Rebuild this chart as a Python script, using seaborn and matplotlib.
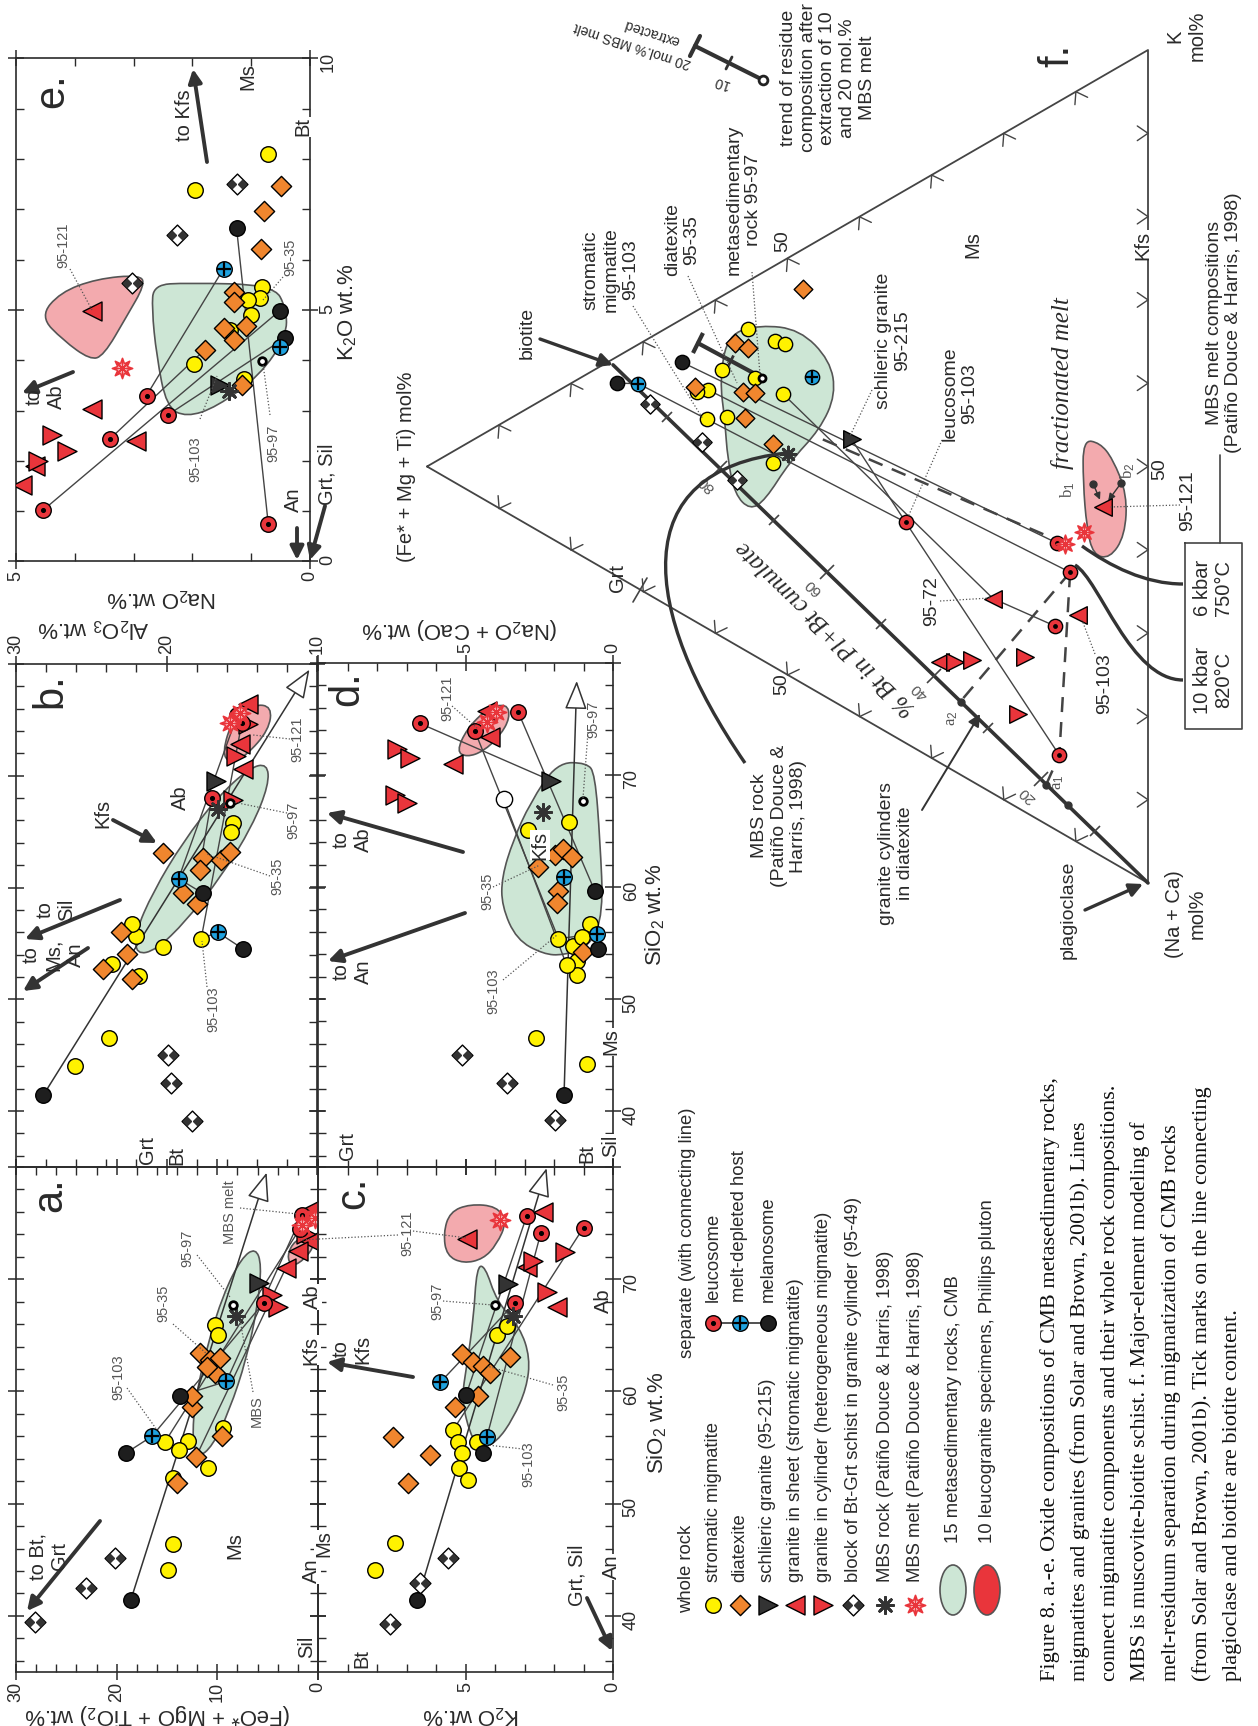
import numpy as np
import matplotlib
matplotlib.use('Agg')
import matplotlib.pyplot as plt
import seaborn as sns
from matplotlib.path import Path
from matplotlib.patches import PathPatch, Ellipse
from matplotlib.markers import MarkerStyle
from matplotlib.transforms import Affine2D

sns.set_style('white')
plt.rcParams['font.family'] = ['Liberation Sans', 'DejaVu Sans']
plt.rcParams['mathtext.fontset'] = 'custom'
plt.rcParams['mathtext.rm'] = 'Liberation Sans'
plt.rcParams['mathtext.it'] = 'Liberation Sans:italic'
plt.rcParams['mathtext.bf'] = 'Liberation Sans:bold'

# ---------------- data ----------------
# panel a: x = FeO*+MgO+TiO2 wt.%, y = SiO2 wt.%
a_strom_x = [14.4, 14.9, 10.2, 9.9, 9.4, 15.2, 12.9, 13.8, 10.9, 14.4]
a_strom_y = [46.4, 44.1, 65.9, 65.0, 56.7, 55.5, 55.6, 54.8, 53.2, 52.3]
a_diat_x = [9.5, 14.0, 12.1, 12.5, 12.5, 10.2, 11.7, 10.7, 9.7, 11.0]
a_diat_y = [56.0, 51.8, 54.2, 58.6, 59.6, 61.6, 63.4, 62.8, 63.0, 62.2]
a_mel_x, a_mel_y = [13.7, 19.1, 18.6], [59.6, 54.5, 41.4]
a_host_x, a_host_y = [16.5, 9.1], [56.0, 60.9]
a_leuc_x, a_leuc_y = [5.4, 1.6, 1.8], [67.9, 75.7, 74.5]
a_melt_x, a_melt_y = [0.3, 1.6], [75.5, 74.8]
a_schl_x, a_schl_y = [5.9], [69.7]
a_sheet_x, a_sheet_y = [3.2, 0.6, 0.8, 2.0], [71.0, 76.3, 73.4, 72.5]
a_cyl_x, a_cyl_y = [4.6, 4.0, 1.2], [68.6, 67.5, 74.0]
a_block_x, a_block_y = [20.2, 23.0, 28.1], [45.2, 42.5, 39.5]
a_mbs = ([8.1], [66.7])
a_ms97 = ([8.4], [67.7])
a_green_x = [11.9, 10.5, 8.8, 7.1, 6.0, 5.6, 6.2, 7.6, 9.4, 11.0, 12.2, 12.5]
a_green_y = [54.1, 55.1, 58.3, 62.9, 67.6, 71.3, 72.8, 71.9, 68.7, 64.1, 59.3, 55.7]
a_pink_x = [3.1, 2.3, 0.8, 0.3, 1.3, 2.6]
a_pink_y = [72.1, 73.5, 73.8, 73.1, 71.8, 71.1]
a_links = [[(19.1, 54.5), (16.5, 56.0), (5.4, 67.9)], [(13.7, 59.6), (9.1, 60.9), (1.6, 75.7)],
           [(15.2, 55.5), (1.8, 74.5)], [(12.1, 54.2), (3.2, 71.0)]]
a_trend = [(18.6, 41.4), (5.1, 79.5)]

# panel b: x = Al2O3 wt.%, y = SiO2 wt.%
b_strom_x = [26.1, 23.8, 20.2, 17.7, 21.8, 23.6, 22.0, 22.3, 15.6, 15.7]
b_strom_y = [44.0, 46.5, 54.7, 55.4, 52.1, 53.2, 55.7, 56.7, 65.8, 65.0]
b_diat_x = [20.2, 17.6, 16.4, 15.8, 17.8, 18.9, 18.0, 23.0, 22.6, 24.2, 22.3]
b_diat_y = [63.1, 62.6, 62.5, 63.2, 61.6, 59.5, 58.5, 56.0, 54.1, 52.7, 51.8]
b_mel_x, b_mel_y = [28.2, 17.6, 14.9], [41.4, 59.5, 54.5]
b_host_x, b_host_y = [19.2, 16.6], [60.8, 56.0]
b_leuc_x, b_leuc_y = [17.0, 15.3, 15.0], [68.0, 75.4, 74.7]
b_melt_x, b_melt_y = [15.1, 15.8], [75.6, 74.7]
b_schl_x, b_schl_y = [16.7], [69.5]
b_sheet_x, b_sheet_y = [14.6, 14.9, 15.1], [76.4, 70.6, 72.8]
b_cyl_x, b_cyl_y = [15.4, 15.6, 14.6], [71.8, 67.8, 74.6]
b_block_x, b_block_y = [19.9, 19.7, 18.3], [45.0, 42.5, 39.1]
b_mbs = ([16.6], [67.0])
b_ms97 = ([15.8], [67.6])
b_green_x = [22.0, 20.7, 18.7, 16.3, 14.3, 13.2, 13.3, 14.5, 16.6, 18.9, 20.9, 22.1]
b_green_y = [54.0, 54.4, 57.0, 61.1, 65.5, 69.2, 71.1, 70.7, 68.1, 64.1, 59.6, 55.9]
b_pink_x = [16.3, 15.6, 14.2, 13.0, 13.2, 14.7, 15.8]
b_pink_y = [72.1, 75.1, 76.4, 76.2, 74.1, 71.8, 71.1]
b_links = [[(14.9, 54.5), (16.6, 56.0), (17.7, 55.4), (15.0, 74.7)],
           [(17.6, 59.5), (19.2, 60.8), (15.3, 75.4)], [(17.8, 61.6), (17.0, 68.0)]]
b_trend = [(28.2, 41.4), (10.5, 79.5)]

# panel c: x = K2O wt.%, y = SiO2 wt.%
c_strom_x = [8.07, 7.39, 5.41, 5.24, 5.13, 5.21, 4.90, 4.62, 3.94, 3.60]
c_strom_y = [44.1, 46.5, 56.6, 55.5, 54.5, 53.2, 52.1, 55.5, 65.0, 65.8]
c_diat_x = [7.45, 6.20, 6.94, 5.36, 4.56, 5.13, 4.73, 4.40, 4.17, 3.50]
c_diat_y = [55.9, 54.3, 51.8, 58.6, 59.6, 63.3, 62.6, 62.3, 61.6, 63.1]
c_mel_x, c_mel_y = [6.63, 4.98, 4.42], [41.4, 59.7, 54.5]
c_host_x, c_host_y = [5.86, 4.28], [60.8, 55.9]
c_leuc_x, c_leuc_y = [3.32, 2.93, 2.45, 1.00], [67.9, 75.6, 74.1, 74.6]
c_melt_x, c_melt_y = [3.83], [75.3]
c_schl_x, c_schl_y = [3.55], [69.6]
c_sheet_x, c_sheet_y = [2.36, 2.93, 1.91, 4.96], [76.0, 71.1, 67.5, 73.6]
c_cyl_x, c_cyl_y = [1.63, 2.70, 2.25], [72.4, 71.6, 68.9]
c_block_x, c_block_y = [7.56, 5.58, 6.54], [39.3, 45.2, 42.9]
c_mbs = ([3.38], [66.7])
c_ms97 = ([4.01], [67.7])
c_green_x = [4.62, 4.34, 3.94, 3.15, 2.81, 2.93, 3.38, 3.94, 4.51, 4.85, 5.13, 4.96, 4.73]
c_green_y = [71.1, 71.2, 68.0, 65.7, 63.0, 60.3, 57.6, 55.5, 54.9, 56.2, 59.3, 62.3, 66.4]
c_pink_x = [5.75, 5.53, 4.85, 3.94, 3.60, 3.94, 4.40, 5.07, 5.64]
c_pink_y = [74.1, 76.0, 76.7, 76.5, 75.1, 73.1, 71.8, 71.4, 72.1]
c_links = [[(5.86, 60.8), (3.32, 67.9)], [(4.98, 59.7), (2.93, 75.6)],
           [(4.42, 54.5), (4.28, 55.9), (2.45, 74.1)], [(5.41, 56.6), (1.00, 74.6)]]
c_trend = [(6.63, 41.4), (2.25, 79.9)]

# panel d: x = Na2O+CaO wt.%, y = SiO2 wt.%
d_strom_x = [2.61, 0.89, 1.48, 2.87, 1.85, 1.34, 0.78, 1.06, 1.23, 1.23, 1.57]
d_strom_y = [46.5, 44.2, 65.8, 65.1, 55.4, 54.7, 56.7, 55.5, 53.4, 52.1, 53.0]
d_diat_x = [2.53, 1.97, 1.68, 1.40, 1.85, 1.91, 1.01]
d_diat_y = [61.8, 62.9, 63.4, 62.7, 59.6, 58.6, 54.2]
d_mel_x, d_mel_y = [1.66, 0.61, 0.50], [41.4, 59.6, 54.5]
d_host_x, d_host_y = [1.66, 0.55], [60.9, 55.8]
d_leuc_x, d_leuc_y = [6.54, 4.68, 3.21], [74.6, 73.9, 75.6]
d_melt_x, d_melt_y = [4.28, 3.97], [74.7, 75.6]
d_schl_x, d_schl_y = [2.10], [69.5]
d_sheet_x, d_sheet_y = [5.41, 4.28, 4.17], [71.0, 75.7, 73.4]
d_cyl_x, d_cyl_y = [7.33, 6.88, 7.39, 7.00], [72.3, 71.5, 68.2, 67.5]
d_block_x, d_block_y = [5.13, 3.60, 1.97], [45.0, 42.5, 39.2]
d_mbs = ([2.36], [66.7])
d_ms97 = ([1.03], [67.7])
d_open = ([3.71], [67.9])
d_green_x = [1.91, 0.89, 0.61, 0.44, 0.33, 0.78, 1.68, 2.36, 3.27, 3.77, 3.77, 3.38, 2.81]
d_green_y = [71.1, 71.1, 70.1, 64.2, 57.6, 54.7, 53.9, 54.0, 55.3, 58.3, 60.9, 64.2, 67.5]
d_pink_x = [5.30, 4.96, 4.28, 3.60, 3.49, 3.83, 4.40, 4.96]
d_pink_y = [72.1, 74.1, 75.9, 76.4, 75.1, 73.5, 72.1, 71.6]
d_links = [[(6.54, 74.6), (2.10, 69.5)], [(4.68, 73.9), (1.85, 55.4)], [(3.21, 75.6), (0.61, 59.6)],
           [(3.71, 67.9), (1.57, 53.0)], [(0.50, 54.5), (0.55, 55.8), (1.85, 55.4)]]
d_trend = [(1.66, 41.4), (1.23, 78.4)]

# panel e: x = Na2O wt.%, y = K2O wt.%
e_strom_x = [0.71, 1.96, 0.82, 0.85, 1.05, 1.00, 1.36, 1.98, 1.13]
e_strom_y = [8.10, 7.39, 5.46, 5.23, 5.19, 4.91, 4.60, 3.93, 3.62]
e_diat_x = [0.49, 0.79, 0.83, 1.30, 1.30, 1.08, 1.47, 1.30, 1.79, 1.16]
e_diat_y = [7.47, 6.96, 6.21, 5.36, 5.15, 4.68, 4.64, 4.40, 4.21, 3.50]
e_mel_x, e_mel_y = [1.25, 0.51, 0.43], [6.64, 4.99, 4.44]
e_host_x, e_host_y = [1.47, 0.51], [5.82, 4.26]
e_leuc_x, e_leuc_y = [2.78, 2.41, 3.40, 4.54, 0.71], [3.30, 2.92, 2.44, 1.02, 0.75]
e_melt_x, e_melt_y = [3.20], [3.85]
e_schl_x, e_schl_y = [1.53], [3.50]
e_sheet_x, e_sheet_y = [3.71, 3.71, 2.96, 4.89, 4.68], [4.99, 3.03, 2.40, 1.53, 1.89]
e_cyl_x, e_cyl_y = [4.39, 4.14, 4.62], [2.52, 2.20, 2.00]
e_block_x, e_block_y = [1.25, 2.27, 3.03], [7.51, 6.49, 5.54]
e_mbs = ([1.37], [3.38])
e_ms97 = ([0.82], [3.99])
e_green_x = [2.66, 2.10, 0.62, 0.40, 0.40, 0.85, 1.59, 2.10, 2.44, 2.61, 2.69]
e_green_y = [5.50, 5.54, 5.50, 5.03, 4.48, 3.70, 3.07, 2.87, 3.07, 4.09, 5.03]
e_pink_x = [4.59, 4.25, 3.63, 2.89, 2.81, 3.12, 3.51, 3.74, 4.20]
e_pink_y = [4.87, 5.35, 5.62, 5.70, 5.50, 4.87, 4.09, 4.01, 4.40]
e_links = [[(4.54, 1.02), (0.51, 4.99)], [(3.40, 2.44), (1.79, 4.21)], [(2.78, 3.30), (1.47, 5.82)],
           [(2.41, 2.92), (0.43, 4.44)], [(0.71, 0.75), (1.25, 6.64)]]

# panel f: ternary, F = Fe*+Mg+Ti mol%, K = K mol% (Na+Ca = rest)
f_strom_F = [59.1, 61.0, 62.6, 61.2, 58.4, 55.5, 51.7, 54.5, 50.6, 52.0, 50.3]
f_strom_K = [32.0, 28.7, 27.6, 25.1, 26.7, 38.8, 39.2, 33.4, 33.4, 24.4, 39.6]
f_diat_F = [57.3, 55.5, 56.2, 54.5, 55.9, 52.0, 62.8, 47.9]
f_diat_K = [36.2, 36.5, 30.8, 31.6, 27.9, 26.7, 28.1, 47.4]
f_mel_F, f_mel_K = [73.6, 64.6], [23.2, 30.2]
f_host_F, f_host_K = [70.7, 46.6], [24.6, 37.4]
f_block_F, f_block_K = [69.1, 61.9, 57.0], [23.0, 22.0, 19.9]
f_leuc_F, f_leuc_K = [33.6, 12.6, 10.8, 12.9, 12.3], [26.5, 34.5, 31.9, 24.4, 9.2]
f_melt_F, f_melt_K = [11.5, 8.9], [35.0, 37.7]
f_schl_F, f_schl_K = [41.1], [32.7]
f_sheet_F, f_sheet_K = [6.2, 21.5, 9.7, 28.8], [42.0, 23.4, 27.3, 12.1]
f_cyl_F, f_cyl_K = [26.8, 24.4, 17.1, 18.0], [13.1, 14.6, 18.6, 11.3]
f_mbs = ([49.9], [26.6])
f_ms97 = ([53.5], [33.9])
f_green_F = [58.3, 53.8, 48.3, 44.1, 43.3, 45.5, 49.7, 53.1, 55.2, 57.3, 58.3, 58.7, 59.4]
f_green_K = [36.7, 40.1, 42.3, 40.7, 37.0, 31.7, 25.7, 19.4, 17.2, 18.0, 21.7, 26.3, 30.7]
f_pink_F = [9.0, 6.7, 4.9, 2.9, 3.2, 5.3, 7.6, 8.5, 9.0]
f_pink_K = [48.7, 49.5, 48.5, 45.2, 40.1, 36.3, 35.6, 38.4, 43.6]
f_biotite = (74.2, 25.1)
f_bt_ticks = [10, 20, 30, 40, 50, 60, 70, 80, 90]
f_bt_labels = [20, 40, 60, 80]
f_a_pts = [19, 35, 15]           # % Bt of the a1, a2 and extra model points
f_b_pts = ([7.6, 3.7], [44.1, 46.2])
f_residue = ([53.5, 62.4], [33.9, 33.6])
f_links = [[(64.6, 30.2), (12.6, 34.5)], [(61.0, 28.7), (10.8, 31.9)],
           [(73.6, 23.2), (70.7, 24.6), (33.6, 26.5)], [(41.1, 32.7), (33.6, 26.5), (12.3, 9.2)],
           [(50.6, 33.4), (21.5, 23.4), (12.9, 24.4)]]
f_dashed = [[(45.1, 30.7), (11.5, 35.0)], [(10.8, 31.9), (26.0, 8.8)], [(10.8, 31.9), (12.3, 9.2), (14.1, 4.8)]]

# ---------------- figure ----------------
W, H = 1258, 1726
fig = plt.figure(figsize=(W / 100, H / 100), dpi=100)
fig.patch.set_facecolor('white')

INK = '#2a2a2a'
YEL, ORA, RED, BLU, BLK = '#fff200', '#f0862e', '#e9353b', '#1fa2df', '#1e1e1e'
GRN, PNK = '#cde6d5', '#f3aaae'

# dark left/right quarters of the schist-block diamond
bowtie = Path([(-1, 0), (-0.5, 0.5), (0, 0), (-0.5, -0.5), (-1, 0),
               (1, 0), (0.5, 0.5), (0, 0), (0.5, -0.5), (1, 0)],
              [Path.MOVETO, Path.LINETO, Path.LINETO, Path.LINETO, Path.CLOSEPOLY] * 2)


def marks(ax, x, y, kind, sc=1.0):
    x = np.atleast_1d(np.asarray(x, float))
    y = np.atleast_1d(np.asarray(y, float))
    s = 125 * sc
    kw = dict(x=x, y=y, ax=ax, legend=False, zorder=6, edgecolor='black', linewidth=1)
    if kind == 'strom':
        sns.scatterplot(marker='o', s=s, color=YEL, **kw)
    elif kind == 'diat':
        sns.scatterplot(marker='D', s=s * 0.85, color=ORA, **kw)
    elif kind == 'schl':
        sns.scatterplot(marker='>', s=s * 1.5, color='#333333', **kw)
    elif kind == 'sheet':
        sns.scatterplot(marker='<', s=s * 1.5, color=RED, **kw)
    elif kind == 'cyl':
        sns.scatterplot(marker='>', s=s * 1.5, color=RED, **kw)
    elif kind == 'block':
        sns.scatterplot(marker='D', s=s * 0.9, color='white', **kw)
        ax.scatter(x, y, marker=bowtie, s=s * 1.6, color='#333333', linewidths=0, zorder=7)
    elif kind == 'mbs':
        ax.scatter(x, y, marker=(8, 2, 0), s=s * 1.1, color='#333333', linewidths=2, zorder=7)
    elif kind == 'melt':
        ax.scatter(x, y, marker=(8, 1, 0), s=s * 1.7, facecolor='white', edgecolor=RED, linewidths=1.2, zorder=7)
        ax.scatter(x, y, marker=(8, 2, 0), s=s * 0.8, color=RED, linewidths=1, zorder=8)
    elif kind == 'leuc':
        sns.scatterplot(marker='o', s=s, color=RED, **kw)
        ax.scatter(x, y, marker='o', s=7 * sc, color='black', zorder=7)
    elif kind == 'host':
        sns.scatterplot(marker='o', s=s, color=BLU, **kw)
        ax.scatter(x, y, marker='+', s=s * 0.8, color='black', linewidths=1.6, zorder=7)
    elif kind == 'mel':
        sns.scatterplot(marker='o', s=s, color=BLK, **kw)
    elif kind == 'ms97':
        ax.scatter(x, y, marker='o', s=30 * sc, facecolor='white', edgecolor='black', linewidths=2, zorder=7)
    elif kind == 'open':
        ax.scatter(x, y, marker='o', s=s * 1.1, facecolor='white', edgecolor='black', linewidths=1, zorder=6)


def field(ax, xs, ys, fc):
    p = np.column_stack([xs, ys])
    mids = (p + np.roll(p, -1, axis=0)) / 2
    verts, codes = [mids[-1]], [Path.MOVETO]
    for i in range(len(p)):
        verts += [p[i], mids[i]]
        codes += [Path.CURVE3, Path.CURVE3]
    ax.add_patch(PathPatch(Path(verts, codes), fc=fc, ec='#555555', lw=1.2, zorder=1))


def panel(l, t, r, b):
    ax = fig.add_axes([l / W, 1 - b / H, (r - l) / W, (b - t) / H])
    ax.set_facecolor('none')
    for sp in ax.spines.values():
        sp.set_color(INK)
        sp.set_linewidth(1.2)
    return ax


def ticks(ax, xlim, ylim, xmaj, xlab, xmin, ymaj, ylab, ymin, xside, yside):
    ax.set_xlim(*xlim)
    ax.set_ylim(*ylim)
    ax.set_xticks(xmaj)
    ax.set_xticklabels(xlab)
    ax.set_xticks(xmin, minor=True)
    ax.set_yticks(ymaj)
    ax.set_yticklabels(ylab)
    ax.set_yticks(ymin, minor=True)
    ax.tick_params(which='both', top=True, bottom=True, left=True, right=True, color=INK)
    ax.tick_params(which='major', direction='inout', length=12, width=1.1, labelsize=13, labelcolor=INK, pad=1)
    ax.tick_params(which='minor', direction='in', length=6, width=1)
    ax.tick_params(axis='x', labelrotation=90, labelbottom=(xside == 'bottom'), labeltop=(xside == 'top'))
    ax.tick_params(axis='y', labelrotation=90, labelleft=False, labelright=(yside == 'right'))


def draw(ax, strom, diat, mel, host, leuc, melt, schl, sheet, cyl, block, mbs, ms97, green, pink, links, trend=None):
    field(ax, *green, GRN)
    field(ax, *pink, PNK)
    for ln in links:
        xs, ys = zip(*ln)
        ax.plot(xs, ys, color='#444444', lw=1, zorder=3)
    if trend is not None:
        ax.annotate('', xy=trend[1], xytext=trend[0],
                    arrowprops=dict(arrowstyle='-|>,head_length=0.9,head_width=0.35', fc='white', ec='#333333',
                                    lw=1.1, mutation_scale=20, shrinkA=0, shrinkB=0), zorder=3)
    marks(ax, *block, 'block')
    marks(ax, *strom, 'strom')
    marks(ax, *diat, 'diat')
    marks(ax, *mel, 'mel')
    marks(ax, *host, 'host')
    marks(ax, *schl, 'schl')
    marks(ax, *sheet, 'sheet')
    marks(ax, *cyl, 'cyl')
    marks(ax, *leuc, 'leuc')
    marks(ax, *melt, 'melt')
    marks(ax, *mbs, 'mbs')
    marks(ax, *ms97, 'ms97')


sil = np.arange(36, 80.1, 2)
ax_e = panel(16, 58.5, 310, 561.5)
ticks(ax_e, (5, 0), (0, 10), [0, 5], ['0', '5'], np.arange(0, 5.1, 1), [0, 5, 10], ['0', '5', '10'],
      np.arange(0, 10.1, 1), 'bottom', 'right')
ax_b = panel(16, 664, 317, 1167)
ticks(ax_b, (30, 10), (35, 80), [10, 20, 30], ['10', '20', '30'], np.arange(10, 30.1, 2),
      [40, 50, 60, 70, 80], [''] * 5, sil, 'top', None)
ax_a = panel(16, 1167, 318, 1672)
ticks(ax_a, (30, 0), (35, 80), [0, 10, 20, 30], ['0', '10', '20', '30'], np.arange(0, 30.1, 2),
      [40, 50, 60, 70, 80], [''] * 5, sil, 'bottom', None)
ax_d = panel(318, 663, 613, 1167)
ticks(ax_d, (10, 0), (35, 80), [0, 5, 10], ['0', '5', ''], np.arange(0, 10.1, 1),
      [40, 50, 60, 70, 80], ['40', '50', '60', '70', ''], sil, 'top', 'right')
ax_c = panel(318, 1167, 613, 1672)
ticks(ax_c, (10, 0), (35, 80), [0, 5, 10], ['0', '5', ''], np.arange(0, 10.1, 1),
      [40, 50, 60, 70, 80], ['40', '50', '60', '70', ''], sil, 'bottom', 'right')

draw(ax_a, (a_strom_x, a_strom_y), (a_diat_x, a_diat_y), (a_mel_x, a_mel_y), (a_host_x, a_host_y),
     (a_leuc_x, a_leuc_y), (a_melt_x, a_melt_y), (a_schl_x, a_schl_y), (a_sheet_x, a_sheet_y),
     (a_cyl_x, a_cyl_y), (a_block_x, a_block_y), a_mbs, a_ms97, (a_green_x, a_green_y),
     (a_pink_x, a_pink_y), a_links, a_trend)
draw(ax_b, (b_strom_x, b_strom_y), (b_diat_x, b_diat_y), (b_mel_x, b_mel_y), (b_host_x, b_host_y),
     (b_leuc_x, b_leuc_y), (b_melt_x, b_melt_y), (b_schl_x, b_schl_y), (b_sheet_x, b_sheet_y),
     (b_cyl_x, b_cyl_y), (b_block_x, b_block_y), b_mbs, b_ms97, (b_green_x, b_green_y),
     (b_pink_x, b_pink_y), b_links, b_trend)
draw(ax_c, (c_strom_x, c_strom_y), (c_diat_x, c_diat_y), (c_mel_x, c_mel_y), (c_host_x, c_host_y),
     (c_leuc_x, c_leuc_y), (c_melt_x, c_melt_y), (c_schl_x, c_schl_y), (c_sheet_x, c_sheet_y),
     (c_cyl_x, c_cyl_y), (c_block_x, c_block_y), c_mbs, c_ms97, (c_green_x, c_green_y),
     (c_pink_x, c_pink_y), c_links, c_trend)
draw(ax_d, (d_strom_x, d_strom_y), (d_diat_x, d_diat_y), (d_mel_x, d_mel_y), (d_host_x, d_host_y),
     (d_leuc_x, d_leuc_y), (d_melt_x, d_melt_y), (d_schl_x, d_schl_y), (d_sheet_x, d_sheet_y),
     (d_cyl_x, d_cyl_y), (d_block_x, d_block_y), d_mbs, d_ms97, (d_green_x, d_green_y),
     (d_pink_x, d_pink_y), d_links, d_trend)
marks(ax_d, *d_open, 'open')
draw(ax_e, (e_strom_x, e_strom_y), (e_diat_x, e_diat_y), (e_mel_x, e_mel_y), (e_host_x, e_host_y),
     (e_leuc_x, e_leuc_y), (e_melt_x, e_melt_y), (e_schl_x, e_schl_y), (e_sheet_x, e_sheet_y),
     (e_cyl_x, e_cyl_y), (e_block_x, e_block_y), e_mbs, e_ms97, (e_green_x, e_green_y),
     (e_pink_x, e_pink_y), e_links)

# ---------------- panel f (ternary, rotated) ----------------
# page x = 1148 - 721*h, page y = 883 - 833*v  with h = F, v = K + F/2
ax_f = fig.add_axes([0, 0, 1, 1])
ax_f.set_xlim(1148 / 721, (1148 - W) / 721)
ax_f.set_ylim((883 - H) / 833, 883 / 833)
ax_f.axis('off')
ax_f.patch.set_alpha(0)


def tern(F, K):
    F = np.asarray(F, float)
    K = np.asarray(K, float)
    return F / 100, K / 100 + F / 200


ax_f.plot(*tern([100, 0, 0, 100], [0, 100, 0, 0]), color='#444444', lw=1.3, zorder=2)
field(ax_f, *tern(f_green_F, f_green_K), GRN)
field(ax_f, *tern(f_pink_F, f_pink_K), PNK)
for ln in f_links:
    Fs, Ks = zip(*ln)
    ax_f.plot(*tern(Fs, Ks), color='#444444', lw=1, zorder=3)
for ln in f_dashed:
    Fs, Ks = zip(*ln)
    ax_f.plot(*tern(Fs, Ks), color='#444444', lw=1.8, ls=(0, (6, 4)), zorder=3)
bh, bv = tern(*f_biotite)
ax_f.plot([bh, 0], [bv, 0], color='#333333', lw=2.6, zorder=3)
perp = MarkerStyle('|', transform=Affine2D().rotate_deg(-44))
for p in f_bt_ticks:
    th, tv = tern(f_biotite[0] * p / 100, f_biotite[1] * p / 100)
    ax_f.plot([th], [tv], ls='none', marker=perp, ms=15 if p in f_bt_labels else 10, mew=1.2, color='#444444', zorder=3)
for p in f_bt_labels:
    th, tv = tern(f_biotite[0] * p / 100, f_biotite[1] * p / 100)
    ax_f.annotate(str(p), xy=(th, tv), xytext=(-10, -11), textcoords='offset points', rotation=136,
                  rotation_mode='anchor', ha='center', va='center', fontsize=11, color='#555555')
ph, pv = tern(f_biotite[0] * 0.55, f_biotite[1] * 0.55)
ax_f.annotate('% Bt in Pl+Bt cumulate', xy=(ph, pv), xytext=(-20, -21), textcoords='offset points',
              rotation=136, rotation_mode='anchor', ha='center', va='center', fontsize=18,
              family=['Liberation Serif', 'DejaVu Serif'], style='italic', color=INK)
for p in f_a_pts:
    th, tv = tern(f_biotite[0] * p / 100, f_biotite[1] * p / 100)
    ax_f.plot([th], [tv], 'o', ms=5, color='#333333', zorder=4)
ax_f.plot(*tern(*f_b_pts), 'o', ms=5, color='#333333', ls='none', zorder=4)
for bF, bK in zip(*f_b_pts):
    ax_f.annotate('', xy=tern(f_sheet_F[0], f_sheet_K[0]), xytext=tern(bF, bK),
                  arrowprops=dict(arrowstyle='-|>', color='#333333', lw=1, mutation_scale=10,
                                  shrinkA=2, shrinkB=6))
rh, rv = tern(*f_residue)
ax_f.plot(rh, rv, color='#333333', lw=3, zorder=4)
ax_f.plot([rh[1]], [rv[1]], ls='none', marker=MarkerStyle('|', transform=Affine2D().rotate_deg(-28)),
          ms=16, mew=3, color='#333333', zorder=4)
ax_f.plot([rh.mean()], [rv.mean()], ls='none', marker=MarkerStyle('|', transform=Affine2D().rotate_deg(-28)),
          ms=9, mew=2, color='#333333', zorder=4)

sf = 0.85
marks(ax_f, *tern(f_block_F, f_block_K), 'block', sf)
marks(ax_f, *tern(f_strom_F, f_strom_K), 'strom', sf)
marks(ax_f, *tern(f_diat_F, f_diat_K), 'diat', sf)
marks(ax_f, *tern(f_mel_F, f_mel_K), 'mel', sf)
marks(ax_f, *tern(f_host_F, f_host_K), 'host', sf)
marks(ax_f, *tern(f_schl_F, f_schl_K), 'schl', sf)
marks(ax_f, *tern(f_sheet_F, f_sheet_K), 'sheet', sf)
marks(ax_f, *tern(f_cyl_F, f_cyl_K), 'cyl', sf)
marks(ax_f, *tern(f_leuc_F, f_leuc_K), 'leuc', sf)
marks(ax_f, *tern(f_melt_F, f_melt_K), 'melt', sf)
marks(ax_f, *tern(*f_mbs), 'mbs', sf)
marks(ax_f, *tern(*f_ms97), 'ms97', sf)

# ---------------- page layer: labels, arrows, legend, caption ----------------
pg = fig.add_axes([0, 0, 1, 1])
pg.set_xlim(0, W)
pg.set_ylim(H, 0)
pg.axis('off')
pg.patch.set_alpha(0)
WB = dict(fc='white', ec='none', pad=0.6)
SERIF = ['Liberation Serif', 'DejaVu Serif']


def T(x, y, s, size=14.5, rot=90, color=INK, ha='center', **kw):
    pg.text(x, y, s, fontsize=size, rotation=rot, rotation_mode='anchor', ha=ha, va='center',
            color=color, multialignment='center', zorder=20, **kw)


def S(x, y, s):
    T(x, y, s, 10.5, color='#555555')


def leader(x1, y1, x2, y2):
    pg.plot([x1, x2], [y1, y2], ls=(0, (1, 1.6)), lw=0.9, color='#555555', zorder=19)


def arrow(x1, y1, x2, y2, lw=2.8, ms=20):
    pg.annotate('', xy=(x2, y2), xytext=(x1, y1),
                arrowprops=dict(arrowstyle='-|>', color='#333333', lw=lw, mutation_scale=ms,
                                shrinkA=0, shrinkB=0), zorder=19)


# axis titles
T(162, 597, 'Na$_2$O wt.%', 16, rot=180)
T(93, 628, 'Al$_2$O$_3$ wt.%', 16, rot=180)
T(158, 1714, '(FeO* + MgO + TiO$_2$) wt.%', 16, rot=180)
T(460, 628, '(Na$_2$O + CaO) wt.%', 16, rot=180)
T(471, 1714, 'K$_2$O wt.%', 16, rot=180)
T(655, 915, 'SiO$_2$ wt.%', 16)
T(657, 1423, 'SiO$_2$ wt.%', 16)
T(348, 312, 'K$_2$O wt.%', 16)

# panel e
T(52, 91, 'e.', 30)
T(185, 115, 'to Kfs')
arrow(207, 162, 193, 69)
T(248, 77, 'Ms')
T(303, 127, 'Bt', bbox=WB)
T(45, 397, 'to\nAb')
arrow(73, 372, 22, 393)
T(293, 500, 'An')
arrow(297, 528, 297, 560)
T(327, 474, 'Grt, Sil')
arrow(325, 506, 310, 560)
for s_, x_, y_ in [('95-121', 63, 245), ('95-35', 290, 257), ('95-103', 195, 459), ('95-97', 273, 443)]:
    S(x_, y_, s_)
leader(70, 269, 92, 310)
leader(283, 277, 263, 300)
leader(200, 419, 217, 376)
leader(270, 415, 263, 364)

# panel b
T(50, 691, 'b.', 30)
T(180, 798, 'Ab')
T(103, 813, 'Kfs')
arrow(113, 820, 157, 843)
T(53, 955, 'to\nMs,\nAn')
arrow(88, 948, 23, 991)
T(56, 910, 'to\nSil')
arrow(120, 900, 25, 939)
for s_, x_, y_ in [('95-121', 297, 739), ('95-97', 293, 820), ('95-35', 277, 876), ('95-103', 213, 1009)]:
    S(x_, y_, s_)
leader(290, 739, 253, 735)
leader(287, 813, 233, 802)
leader(270, 876, 207, 854)
leader(207, 987, 202, 941)
T(147, 1150, 'Grt')
T(177, 1155, 'Bt')

# panel a
T(50, 1195, 'a.', 30)
T(49, 1556, 'to Bt,\nGrt')
arrow(100, 1521, 27, 1611)
T(235, 1546, 'Ms')
for s_, x_, y_ in [('95-103', 118, 1377), ('95-35', 163, 1303), ('95-97', 187, 1248), ('MBS', 257, 1411),
                   ('MBS melt', 230, 1212)]:
    S(x_, y_, s_)
leader(127, 1388, 157, 1430)
leader(173, 1324, 207, 1354)
leader(197, 1255, 230, 1297)
leader(253, 1392, 240, 1320)
leader(240, 1208, 298, 1214)
for s_, x_, y_ in [('Sil', 307, 1647), ('An', 311, 1571), ('Ms', 324, 1544), ('Kfs', 311, 1350), ('Ab', 312, 1297)]:
    T(x_, y_, s_, bbox=WB)

# panel c
T(353, 1193, 'c.', 30)
T(352, 1349, 'to\nKfs')
arrow(413, 1377, 327, 1362)
T(362, 1658, 'Bt')
for s_, x_, y_ in [('95-121', 407, 1233), ('95-97', 437, 1301), ('95-35', 563, 1392), ('95-103', 528, 1464)]:
    S(x_, y_, s_)
leader(413, 1231, 467, 1238)
leader(398, 1235, 300, 1240)
leader(443, 1301, 493, 1305)
leader(553, 1385, 487, 1366)
leader(523, 1449, 487, 1445)
T(603, 1301, 'Ab')
T(611, 1567, 'An', bbox=WB)
T(577, 1575, 'Grt, Sil')
arrow(587, 1598, 612, 1651)

# panel d
T(347, 689, 'd.', 30)
T(352, 840, 'to\nAb')
arrow(463, 852, 327, 813)
T(352, 972, 'to\nAn')
arrow(465, 913, 328, 961)
T(540, 845, 'Kfs', bbox=WB)
for s_, x_, y_ in [('95-121', 447, 698), ('95-97', 593, 719), ('95-35', 487, 891), ('95-103', 493, 991)]:
    S(x_, y_, s_)
leader(452, 706, 477, 728)
leader(588, 732, 583, 798)
leader(493, 887, 540, 865)
leader(503, 980, 557, 935)
for s_, x_, y_ in [('Ms', 611, 1042), ('Sil', 611, 1146), ('Bt', 587, 1153), ('Grt', 347, 1146)]:
    T(x_, y_, s_, bbox=WB)

# panel f decorations
Fv, Kv, Nv = np.array([427., 467.]), np.array([1148., 50.]), np.array([1148., 883.])
cen = (Fv + Kv + Nv) / 3
for P, Q in [(Fv, Kv), (Kv, Nv), (Nv, Fv)]:
    e = (Q - P) / np.linalg.norm(Q - P)
    n = np.array([-e[1], e[0]])
    if np.dot(cen - P, n) < 0:
        n = -n
    for t in np.arange(0.1, 0.95, 0.1):
        p = P + t * (Q - P)
        for sg in (1, -1):
            q = p + 13 * (n * np.cos(0.6) + sg * e * np.sin(0.6))
            pg.plot([p[0], q[0]], [p[1], q[1]], color='#444444', lw=1, zorder=5)
pg.plot([633, 647], [602, 578], color='#444444', lw=1.2)
T(407, 467, '(Fe* + Mg + Ti) mol%')
T(617, 578, 'Grt')
T(1186, 36, 'K\nmol%')
T(1186, 914, '(Na + Ca)\nmol%')
T(1057, 55, 'f.', 30)
T(973, 245, 'Ms')
T(1143, 245, 'Kfs', bbox=WB)
T(1160, 469, '50', 14, bbox=WB)
T(783, 241, '50', 14)
T(782, 684, '50', 14)
T(1062, 383, 'fractionated melt', 18, family=SERIF, style='italic')
T(1068, 490, 'b$_1$', 12, family=SERIF, color='#555555')
T(1128, 471, 'b$_2$', 12, family=SERIF, color='#555555')
T(1058, 782, 'a$_1$', 12, family=SERIF, color='#555555')
T(952, 718, 'a$_2$', 12, family=SERIF, color='#555555')
T(1188, 501, '95-121', 14)
leader(1180, 505, 1110, 507)
T(1224, 323, 'MBS melt compositions\n(Patiño Douce & Harris, 1998)', 14)
T(1213, 588, '6 kbar\n750°C')
T(1213, 680, '10 kbar\n820°C')
pg.plot([1185, 1185, 1242, 1242, 1185], [543, 729, 729, 543, 543], color='#444444', lw=1.2)
pg.plot([1220, 1220], [455, 543], color='#444444', lw=1.2)
for verts in [[(745, 763), (640, 610), (625, 470), (787, 453)],
              [(1082, 546), (1110, 566), (1145, 584), (1183, 584)],
              [(1075, 565), (1100, 580), (1130, 680), (1183, 680)]]:
    pg.add_patch(PathPatch(Path(verts, [Path.MOVETO, Path.CURVE4, Path.CURVE4, Path.CURVE4]),
                           fc='none', ec='#333333', lw=2.4, zorder=5))
T(527, 333, 'biotite', 14)
arrow(540, 339, 613, 365, lw=2.4)
T(611, 270, 'stromatic\nmigmatite\n95-103', 14)
leader(633, 306, 703, 419)
T(682, 240, 'diatexite\n95-35', 14)
leader(688, 276, 737, 383)
T(744, 200, 'metasedimentary\nrock 95-97', 14)
leader(752, 272, 760, 375)
T(828, 78, 'trend of residue\ncomposition after\nextraction of 10\nand 20 mol.%\nMBS melt', 14)
T(893, 341, 'schlieric granite\n95-215', 14)
leader(872, 390, 850, 436)
T(960, 394, 'leucosome\n95-103', 14)
leader(942, 440, 908, 517)
T(932, 601, '95-72', 14)
leader(940, 601, 990, 598)
T(1105, 684, '95-103', 14)
leader(1095, 654, 1082, 620)
T(896, 853, 'granite cylinders\nin diatexite', 14)
arrow(922, 810, 980, 714, lw=1.4, ms=18)
T(1068, 910, 'plagioclase', 14)
arrow(1085, 910, 1143, 884, lw=2.4)
T(779, 816, 'MBS rock\n(Patiño Douce &\nHarris, 1998)', 14)
# residue scale bar
pg.plot([763, 695], [80, 46], color='#333333', lw=3)
pg.plot([700, 690], [36, 56], color='#333333', lw=3)
pg.plot([732, 726], [57, 69], color='#333333', lw=2)
pg.scatter([763], [80], s=40, facecolor='white', edgecolor='#222222', linewidths=2, zorder=6)
T(721, 82, '10', 10, rot=162)
T(633, 45, '20 mol.% MBS melt', 10, rot=162)
T(652, 32, 'extracted', 10, rot=162)

# legend
T(687, 1613, 'whole rock', 13.3, ha='left')
leg_x = [713, 740, 768, 795, 823, 853, 885, 915]
leg_k = ['strom', 'diat', 'schl', 'sheet', 'cyl', 'block', 'mbs', 'melt']
leg_t = ['stromatic migmatite', 'diatexite', 'schlieric granite (95-215)',
         'granite in sheet (stromatic migmatite)', 'granite in cylinder (heterogeneous migmatite)',
         'block of Bt-Grt schist in granite cylinder (95-49)', 'MBS rock (Patiño Douce & Harris, 1998)',
         'MBS melt (Patiño Douce & Harris, 1998)']
for x_, k_, t_ in zip(leg_x, leg_k, leg_t):
    marks(pg, [x_], [1605], k_)
    T(x_, 1582, t_, 13.3, ha='left')
T(687, 1358, 'separate (with connecting line)', 13.3, ha='left')
pg.plot([713, 768], [1323, 1323], color='#333333', lw=1.2, zorder=5)
for x_, k_, t_ in zip([713, 740, 768], ['leuc', 'host', 'mel'], ['leucosome', 'melt-depleted host', 'melanosome']):
    marks(pg, [x_], [1323], k_)
    T(x_, 1302, t_, 13.3, ha='left')
pg.add_patch(Ellipse((953, 1590), 26, 50, fc=GRN, ec='#555555', lw=1.2))
T(953, 1543, '15 metasedimentary rocks, CMB', 13.3, ha='left')
pg.add_patch(Ellipse((987, 1590), 26, 50, fc=RED, ec='#555555', lw=1.2))
T(987, 1543, '10 leucogranite specimens, Phillips pluton', 13.3, ha='left')

# caption
cap = ['Figure 8. a.-e. Oxide compositions of CMB metasedimentary rocks,',
       'migmatites and granites (from Solar and Brown, 2001b). Lines',
       'connect migmatite components and their whole rock compositions.',
       'MBS is muscovite-biotite schist. f. Major-element modeling of',
       'melt-residuum separation during migmatization of CMB rocks',
       '(from Solar and Brown, 2001b). Tick marks on the line connecting',
       'plagioclase and biotite are biotite content.']
for x_, line in zip([1050, 1080, 1110, 1140, 1171, 1202, 1233], cap):
    T(x_, 1681, line, 16, ha='left', family=SERIF, color='#111111')

fig.savefig('out.png', dpi=100, facecolor='white')
